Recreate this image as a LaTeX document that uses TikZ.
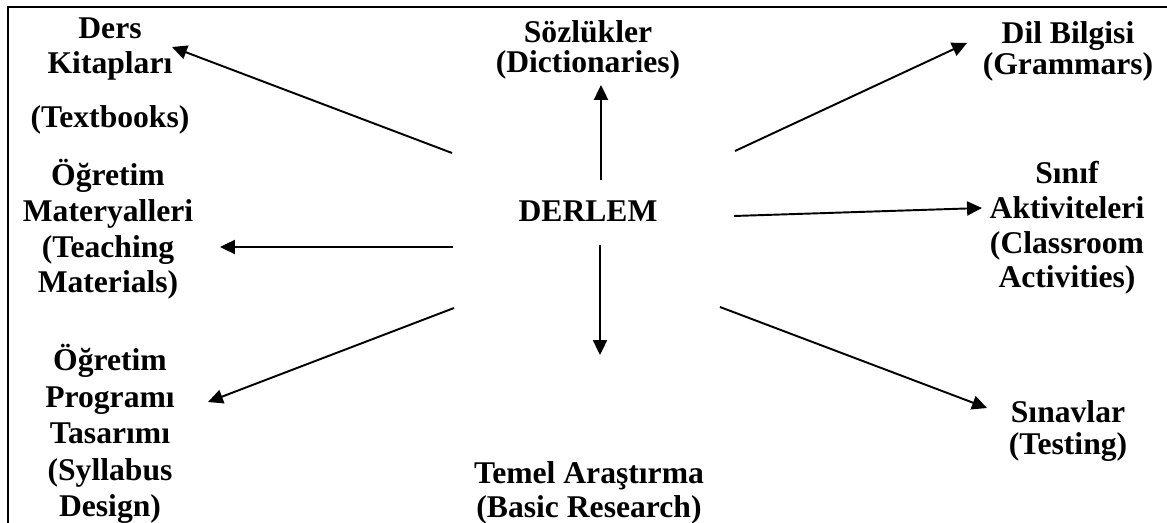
\documentclass[tikz,border=0pt]{standalone}
\usepackage{fontspec}
\setmainfont{Liberation Serif}
\usetikzlibrary{arrows.meta}
\tikzset{
    etichetta/.style={font=\fontsize{18}{#1}\selectfont\bfseries, align=center, inner sep=0pt, anchor=base},
    etichetta/.default=20pt,
    freccia/.style={-{Triangle[length=8.5pt,width=8pt]}, line width=1.1pt},
}
\begin{document}
\begin{tikzpicture}[x=0.02cm, y=-0.02cm]
    \useasboundingbox (0,0) rectangle (1167,523);

    % Cornice
    \draw[line width=1.2pt] (8,523) -- (8,7) -- (1167,7);

    % Centro
    \node[etichetta] (derlem) at (588,222) {DERLEM};

    % Colonna sinistra
    \node[etichetta=19.8pt] (ders) at (110,128) {Ders\\Kitapları\\[11.3pt](Textbooks)};
    \node[etichetta=20.4pt] (ogr_mat) at (108,293) {Öğretim\\Materyalleri\\(Teaching\\Materials)};
    \node[etichetta=20.8pt] (ogr_prog) at (110,517) {Öğretim\\Programı\\Tasarımı\\(Syllabus\\Design)};

    % Colonna centrale
    \node[etichetta=17.6pt] (sozluk) at (588,73) {Sözlükler\\(Dictionaries)};
    \node[etichetta=19.8pt] (temel) at (589,518) {Temel Araştırma\\(Basic Research)};

    % Colonna destra
    \node[etichetta=18.1pt] (dil) at (1068,75) {Dil Bilgisi\\(Grammars)};
    \node[etichetta=19.8pt] (sinif) at (1067,288) {Sınıf\\Aktiviteleri\\(Classroom\\Activities)};
    \node[etichetta=18.7pt] (sinav) at (1068,455) {Sınavlar\\(Testing)};

    % Estremi delle frecce
    \coordinate (da_ders) at (452,153);   \coordinate (a_ders) at (172,47);
    \coordinate (da_mat) at (453,247);    \coordinate (a_mat) at (220,247);
    \coordinate (da_prog) at (454,308);   \coordinate (a_prog) at (208,402);
    \coordinate (da_sozluk) at (601,180); \coordinate (a_sozluk) at (601,85);
    \coordinate (da_temel) at (600,245);  \coordinate (a_temel) at (600,355);
    \coordinate (da_dil) at (735,151);    \coordinate (a_dil) at (967,43);
    \coordinate (da_sinif) at (734,216);  \coordinate (a_sinif) at (982,208);
    \coordinate (da_sinav) at (720,307);  \coordinate (a_sinav) at (987,408);

    % Frecce
    \draw[freccia] (da_ders) -- (a_ders);
    \draw[freccia] (da_mat) -- (a_mat);
    \draw[freccia] (da_prog) -- (a_prog);
    \draw[freccia] (da_sozluk) -- (a_sozluk);
    \draw[freccia] (da_temel) -- (a_temel);
    \draw[freccia] (da_dil) -- (a_dil);
    \draw[freccia] (da_sinif) -- (a_sinif);
    \draw[freccia] (da_sinav) -- (a_sinav);
\end{tikzpicture}
\end{document}
